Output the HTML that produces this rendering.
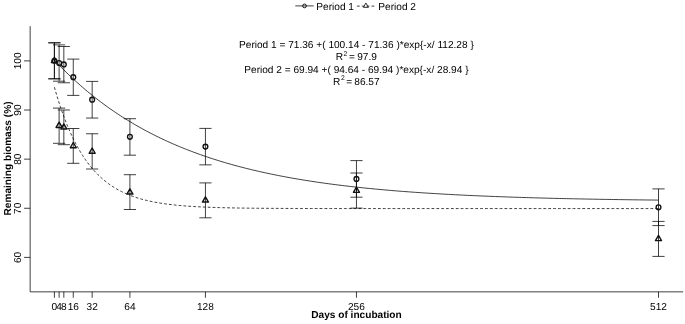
<!DOCTYPE html><html><head><meta charset="utf-8"><style>html,body{margin:0;padding:0;background:#fff}svg{display:block;text-rendering:geometricPrecision}</style></head><body><svg width="685" height="324" viewBox="0 0 685 324">
<g fill="none" stroke="#000" stroke-width="0.75" class="ln">
<path d="M30.15 26.2 V291.85 H683.2"/>
<path d="M54.40 291.85 v5.9M59.12 291.85 v5.9M63.84 291.85 v5.9M73.28 291.85 v5.9M92.16 291.85 v5.9M129.91 291.85 v5.9M205.43 291.85 v5.9M356.45 291.85 v5.9M658.50 291.85 v5.9M30.15 257.40 h-6.1M30.15 208.28 h-6.1M30.15 159.15 h-6.1M30.15 110.03 h-6.1M30.15 60.90 h-6.1"/>
<path d="M54.40 60.21 L56.76 62.71 L59.12 65.16 L61.48 67.57 L63.84 69.94 L66.20 72.26 L68.56 74.54 L70.92 76.79 L73.28 78.99 L75.64 81.15 L78.00 83.28 L80.36 85.37 L82.72 87.42 L85.08 89.44 L87.44 91.42 L89.80 93.36 L92.16 95.27 L94.52 97.15 L96.88 98.99 L99.24 100.81 L101.60 102.58 L103.96 104.33 L106.31 106.05 L108.67 107.74 L111.03 109.39 L113.39 111.02 L115.75 112.62 L118.11 114.19 L120.47 115.73 L122.83 117.25 L125.19 118.74 L127.55 120.20 L129.91 121.64 L132.27 123.05 L134.63 124.44 L136.99 125.80 L139.35 127.14 L141.71 128.45 L144.07 129.74 L146.43 131.01 L148.79 132.26 L151.15 133.48 L153.51 134.68 L155.87 135.87 L158.23 137.03 L160.59 138.17 L162.95 139.29 L165.31 140.39 L167.67 141.47 L170.03 142.53 L172.39 143.57 L174.75 144.60 L177.11 145.60 L179.47 146.59 L181.83 147.56 L184.19 148.52 L186.55 149.45 L188.91 150.37 L191.27 151.28 L193.63 152.17 L195.99 153.04 L198.35 153.90 L200.71 154.74 L203.07 155.57 L205.43 156.38 L207.78 157.18 L210.14 157.96 L212.50 158.73 L214.86 159.49 L217.22 160.23 L219.58 160.96 L221.94 161.68 L224.30 162.38 L226.66 163.08 L229.02 163.76 L231.38 164.42 L233.74 165.08 L236.10 165.72 L238.46 166.36 L240.82 166.98 L243.18 167.59 L245.54 168.19 L247.90 168.78 L250.26 169.36 L252.62 169.93 L254.98 170.49 L257.34 171.04 L259.70 171.58 L262.06 172.11 L264.42 172.63 L266.78 173.14 L269.14 173.64 L271.50 174.13 L273.86 174.62 L276.22 175.10 L278.58 175.56 L280.94 176.02 L283.30 176.47 L285.66 176.92 L288.02 177.35 L290.38 177.78 L292.74 178.20 L295.10 178.62 L297.46 179.02 L299.82 179.42 L302.18 179.81 L304.54 180.20 L306.89 180.57 L309.25 180.94 L311.61 181.31 L313.97 181.67 L316.33 182.02 L318.69 182.36 L321.05 182.70 L323.41 183.04 L325.77 183.37 L328.13 183.69 L330.49 184.00 L332.85 184.31 L335.21 184.62 L337.57 184.92 L339.93 185.21 L342.29 185.50 L344.65 185.79 L347.01 186.07 L349.37 186.34 L351.73 186.61 L354.09 186.87 L356.45 187.13 L358.81 187.39 L361.17 187.64 L363.53 187.89 L365.89 188.13 L368.25 188.37 L370.61 188.60 L372.97 188.83 L375.33 189.05 L377.69 189.28 L380.05 189.49 L382.41 189.71 L384.77 189.92 L387.13 190.12 L389.49 190.32 L391.85 190.52 L394.21 190.72 L396.57 190.91 L398.93 191.10 L401.29 191.29 L403.65 191.47 L406.01 191.65 L408.36 191.82 L410.72 191.99 L413.08 192.16 L415.44 192.33 L417.80 192.49 L420.16 192.65 L422.52 192.81 L424.88 192.97 L427.24 193.12 L429.60 193.27 L431.96 193.42 L434.32 193.56 L436.68 193.70 L439.04 193.84 L441.40 193.98 L443.76 194.11 L446.12 194.24 L448.48 194.37 L450.84 194.50 L453.20 194.63 L455.56 194.75 L457.92 194.87 L460.28 194.99 L462.64 195.11 L465.00 195.22 L467.36 195.33 L469.72 195.44 L472.08 195.55 L474.44 195.66 L476.80 195.76 L479.16 195.87 L481.52 195.97 L483.88 196.07 L486.24 196.16 L488.60 196.26 L490.96 196.36 L493.32 196.45 L495.68 196.54 L498.04 196.63 L500.40 196.72 L502.76 196.80 L505.12 196.89 L507.48 196.97 L509.83 197.05 L512.19 197.13 L514.55 197.21 L516.91 197.29 L519.27 197.36 L521.63 197.44 L523.99 197.51 L526.35 197.58 L528.71 197.65 L531.07 197.72 L533.43 197.79 L535.79 197.86 L538.15 197.93 L540.51 197.99 L542.87 198.05 L545.23 198.12 L547.59 198.18 L549.95 198.24 L552.31 198.30 L554.67 198.36 L557.03 198.41 L559.39 198.47 L561.75 198.52 L564.11 198.58 L566.47 198.63 L568.83 198.68 L571.19 198.73 L573.55 198.79 L575.91 198.83 L578.27 198.88 L580.63 198.93 L582.99 198.98 L585.35 199.02 L587.71 199.07 L590.07 199.11 L592.43 199.16 L594.79 199.20 L597.15 199.24 L599.51 199.29 L601.87 199.33 L604.23 199.37 L606.59 199.41 L608.94 199.44 L611.30 199.48 L613.66 199.52 L616.02 199.56 L618.38 199.59 L620.74 199.63 L623.10 199.66 L625.46 199.70 L627.82 199.73 L630.18 199.76 L632.54 199.79 L634.90 199.83 L637.26 199.86 L639.62 199.89 L641.98 199.92 L644.34 199.95 L646.70 199.98 L649.06 200.01 L651.42 200.03 L653.78 200.06 L656.14 200.09 L658.50 200.11"/>
<path stroke-dasharray="2.8 2.065" d="M54.40 87.23 L55.58 91.35 L56.76 95.33 L57.94 99.18 L59.12 102.89 L60.30 106.48 L61.48 109.95 L62.66 113.30 L63.84 116.54 L65.02 119.66 L66.20 122.68 L67.38 125.60 L68.56 128.42 L69.74 131.14 L70.92 133.77 L72.10 136.31 L73.28 138.76 L74.46 141.13 L75.64 143.43 L76.82 145.64 L78.00 147.78 L79.18 149.84 L80.36 151.83 L81.54 153.76 L82.72 155.62 L83.90 157.42 L85.08 159.16 L86.26 160.84 L87.44 162.46 L88.62 164.02 L89.80 165.54 L90.98 167.00 L92.16 168.41 L93.34 169.77 L94.52 171.09 L95.70 172.37 L96.88 173.59 L98.06 174.78 L99.24 175.93 L100.42 177.04 L101.60 178.11 L102.78 179.14 L103.96 180.14 L105.13 181.11 L106.31 182.04 L107.49 182.94 L108.67 183.81 L109.85 184.65 L111.03 185.47 L112.21 186.25 L113.39 187.01 L114.57 187.74 L115.75 188.45 L116.93 189.13 L118.11 189.79 L119.29 190.43 L120.47 191.05 L121.65 191.64 L122.83 192.22 L124.01 192.77 L125.19 193.31 L126.37 193.83 L127.55 194.33 L128.73 194.81 L129.91 195.28"/>
<path stroke-dasharray="2.8 2.065" stroke-dashoffset="3.648" d="M129.91 195.28 L132.27 196.17 L134.63 196.99 L136.99 197.77 L139.35 198.49 L141.71 199.16 L144.07 199.79 L146.43 200.38 L148.79 200.92 L151.15 201.43 L153.51 201.91 L155.87 202.36 L158.23 202.77 L160.59 203.16 L162.95 203.52 L165.31 203.86 L167.67 204.17 L170.03 204.46 L172.39 204.74 L174.75 204.99 L177.11 205.23 L179.47 205.46 L181.83 205.66 L184.19 205.86 L186.55 206.04 L188.91 206.21 L191.27 206.37 L193.63 206.51 L195.99 206.65 L198.35 206.78 L200.71 206.90 L203.07 207.01 L205.43 207.11 L207.78 207.21 L210.14 207.30 L212.50 207.39 L214.86 207.47 L217.22 207.54 L219.58 207.61 L221.94 207.67 L224.30 207.73 L226.66 207.79 L229.02 207.84 L231.38 207.89 L233.74 207.93 L236.10 207.98 L238.46 208.02 L240.82 208.05 L243.18 208.09 L245.54 208.12 L247.90 208.15 L250.26 208.18 L252.62 208.20 L254.98 208.23 L257.34 208.25 L259.70 208.27 L262.06 208.29 L264.42 208.31 L266.78 208.33 L269.14 208.34 L271.50 208.36 L273.86 208.37 L276.22 208.39 L278.58 208.40 L280.94 208.41 L283.30 208.42 L285.66 208.43 L288.02 208.44 L290.38 208.45 L292.74 208.46 L295.10 208.46 L297.46 208.47 L299.82 208.48 L302.18 208.48 L304.54 208.49 L306.89 208.50 L309.25 208.50 L311.61 208.50 L313.97 208.51 L316.33 208.51 L318.69 208.52 L321.05 208.52 L323.41 208.52 L325.77 208.53 L328.13 208.53 L330.49 208.53 L332.85 208.53 L335.21 208.54 L337.57 208.54 L339.93 208.54 L342.29 208.54 L344.65 208.55 L347.01 208.55 L349.37 208.55 L351.73 208.55 L354.09 208.55 L356.45 208.55 L358.81 208.55 L361.17 208.55 L363.53 208.56 L365.89 208.56 L368.25 208.56 L370.61 208.56 L372.97 208.56 L375.33 208.56 L377.69 208.56 L380.05 208.56 L382.41 208.56 L384.77 208.56 L387.13 208.56 L389.49 208.56 L391.85 208.56 L394.21 208.56 L396.57 208.56 L398.93 208.56 L401.29 208.57 L403.65 208.57 L406.01 208.57 L408.36 208.57 L410.72 208.57 L413.08 208.57 L415.44 208.57 L417.80 208.57 L420.16 208.57 L422.52 208.57 L424.88 208.57 L427.24 208.57 L429.60 208.57 L431.96 208.57 L434.32 208.57 L436.68 208.57 L439.04 208.57 L441.40 208.57 L443.76 208.57 L446.12 208.57 L448.48 208.57 L450.84 208.57 L453.20 208.57 L455.56 208.57 L457.92 208.57 L460.28 208.57 L462.64 208.57 L465.00 208.57 L467.36 208.57 L469.72 208.57 L472.08 208.57 L474.44 208.57 L476.80 208.57 L479.16 208.57 L481.52 208.57 L483.88 208.57 L486.24 208.57 L488.60 208.57 L490.96 208.57 L493.32 208.57 L495.68 208.57 L498.04 208.57 L500.40 208.57 L502.76 208.57 L505.12 208.57 L507.48 208.57 L509.83 208.57 L512.19 208.57 L514.55 208.57 L516.91 208.57 L519.27 208.57 L521.63 208.57 L523.99 208.57 L526.35 208.57 L528.71 208.57 L531.07 208.57 L533.43 208.57 L535.79 208.57 L538.15 208.57 L540.51 208.57 L542.87 208.57 L545.23 208.57 L547.59 208.57 L549.95 208.57 L552.31 208.57 L554.67 208.57 L557.03 208.57 L559.39 208.57 L561.75 208.57 L564.11 208.57 L566.47 208.57 L568.83 208.57 L571.19 208.57 L573.55 208.57 L575.91 208.57 L578.27 208.57 L580.63 208.57 L582.99 208.57 L585.35 208.57 L587.71 208.57 L590.07 208.57 L592.43 208.57 L594.79 208.57 L597.15 208.57 L599.51 208.57 L601.87 208.57 L604.23 208.57 L606.59 208.57 L608.94 208.57 L611.30 208.57 L613.66 208.57 L616.02 208.57 L618.38 208.57 L620.74 208.57 L623.10 208.57 L625.46 208.57 L627.82 208.57 L630.18 208.57 L632.54 208.57 L634.90 208.57 L637.26 208.57 L639.62 208.57 L641.98 208.57 L644.34 208.57 L646.70 208.57 L649.06 208.57 L651.42 208.57 L653.78 208.57 L656.14 208.57 L658.50 208.57"/>
<path d="M54.40 42.8 V78.8M48.30 42.8 h12.2M48.30 78.8 h12.2M59.12 44.9 V81.2M53.02 44.9 h12.2M53.02 81.2 h12.2M63.84 46.5 V82.75M57.74 46.5 h12.2M57.74 82.75 h12.2M73.28 59.1 V95.4M67.18 59.1 h12.2M67.18 95.4 h12.2M92.16 81.4 V118.05M86.06 81.4 h12.2M86.06 118.05 h12.2M129.91 118.7 V155.2M123.81 118.7 h12.2M123.81 155.2 h12.2M205.43 128.4 V164.85M199.33 128.4 h12.2M199.33 164.85 h12.2M356.45 160.6 V197.2M350.35 160.6 h12.2M350.35 197.2 h12.2M658.50 188.9 V225.6M652.40 188.9 h12.2M652.40 225.6 h12.2"/>
<path d="M54.40 42.8 V78.8M48.30 42.8 h12.2M48.30 78.8 h12.2M59.12 108.1 V143.3M53.02 108.1 h12.2M53.02 143.3 h12.2M63.84 110.0 V144.7M57.74 110.0 h12.2M57.74 144.7 h12.2M73.28 128.5 V163.3M67.18 128.5 h12.2M67.18 163.3 h12.2M92.16 133.75 V169.0M86.06 133.75 h12.2M86.06 169.0 h12.2M129.91 174.7 V209.5M123.81 174.7 h12.2M123.81 209.5 h12.2M205.43 182.9 V217.8M199.33 182.9 h12.2M199.33 217.8 h12.2M356.45 173.0 V208.1M350.35 173.0 h12.2M350.35 208.1 h12.2M658.50 221.4 V256.4M652.40 221.4 h12.2M652.40 256.4 h12.2"/>
</g>
<g fill="none" stroke="#111" stroke-width="1.4" stroke-linejoin="round">
<circle cx="54.40" cy="60.80" r="2.4" stroke-width="1.35"/>
<circle cx="59.12" cy="63.00" r="2.4" stroke-width="1.35"/>
<circle cx="63.84" cy="64.40" r="2.4" stroke-width="1.35"/>
<circle cx="73.28" cy="77.20" r="2.4" stroke-width="1.35"/>
<circle cx="92.16" cy="99.70" r="2.4" stroke-width="1.35"/>
<circle cx="129.91" cy="136.80" r="2.4" stroke-width="1.35"/>
<circle cx="205.43" cy="146.60" r="2.4" stroke-width="1.35"/>
<circle cx="356.45" cy="178.90" r="2.4" stroke-width="1.35"/>
<circle cx="658.50" cy="207.30" r="2.4" stroke-width="1.35"/>
<path d="M54.40 57.30 L57.43 62.55 L51.37 62.55 Z"/>
<path d="M59.12 122.20 L62.15 127.45 L56.09 127.45 Z"/>
<path d="M63.84 123.80 L66.87 129.05 L60.81 129.05 Z"/>
<path d="M73.28 142.50 L76.31 147.75 L70.25 147.75 Z"/>
<path d="M92.16 148.00 L95.19 153.25 L89.13 153.25 Z"/>
<path d="M129.91 188.80 L132.94 194.05 L126.88 194.05 Z"/>
<path d="M205.43 196.80 L208.46 202.05 L202.39 202.05 Z"/>
<path d="M356.45 187.10 L359.48 192.35 L353.42 192.35 Z"/>
<path d="M658.50 235.40 L661.53 240.65 L655.47 240.65 Z"/>
</g>
<g fill="none" stroke="#000" stroke-width="0.75"><path d="M295.3 5.9 H313.7"/><path stroke-dasharray="2.8 2.07" d="M356.9 6.1 H374.4"/></g>
<g fill="none" stroke="#111" stroke-width="1" stroke-linejoin="round"><circle cx="304.5" cy="5.9" r="1.85"/><path stroke-width="0.85" d="M365.90 3.00 L368.41 7.35 L363.39 7.35 Z"/></g>
<g font-family="'Liberation Sans', Arial, sans-serif" font-size="10.12" fill="#000">
<text x="316.35" y="9.75">Period 1</text><text x="378.35" y="9.75">Period 2</text>
<text x="356.4" y="48.2" text-anchor="middle">Period 1 = 71.36 +( 100.14 - 71.36 )*exp{-x/ 112.28 }</text>
<text x="335.8" y="60.3">R</text><text x="343.6" y="55.8" font-size="6.8">2</text><text x="348.9" y="60.3">=</text><text x="357.2" y="60.3">97.9</text>
<text x="356.4" y="72.6" text-anchor="middle">Period 2 = 69.94 +( 94.64 - 69.94 )*exp{-x/ 28.94 }</text>
<text x="333.1" y="84.5">R</text><text x="340.9" y="80.0" font-size="6.8">2</text><text x="346.25" y="84.5">=</text><text x="354.3" y="84.5">86.57</text>
<g text-anchor="middle">
<text x="54.40" y="310.0">0</text>
<text x="59.12" y="310.0">4</text>
<text x="63.84" y="310.0">8</text>
<text x="73.28" y="310.0">16</text>
<text x="92.16" y="310.0">32</text>
<text x="129.91" y="310.0">64</text>
<text x="205.43" y="310.0">128</text>
<text x="356.45" y="310.0">256</text>
<text x="658.50" y="310.0">512</text>
<text transform="translate(21.3 257.40) rotate(-90)">60</text>
<text transform="translate(21.3 208.28) rotate(-90)">70</text>
<text transform="translate(21.3 159.15) rotate(-90)">80</text>
<text transform="translate(21.3 110.03) rotate(-90)">90</text>
<text transform="translate(21.3 60.90) rotate(-90)">100</text>
<text x="356.5" y="318.3" font-weight="bold">Days of incubation</text>
<text transform="translate(10.9 158.5) rotate(-90)" font-weight="bold">Remaining biomass (%)</text>
</g></g></svg></body></html>
